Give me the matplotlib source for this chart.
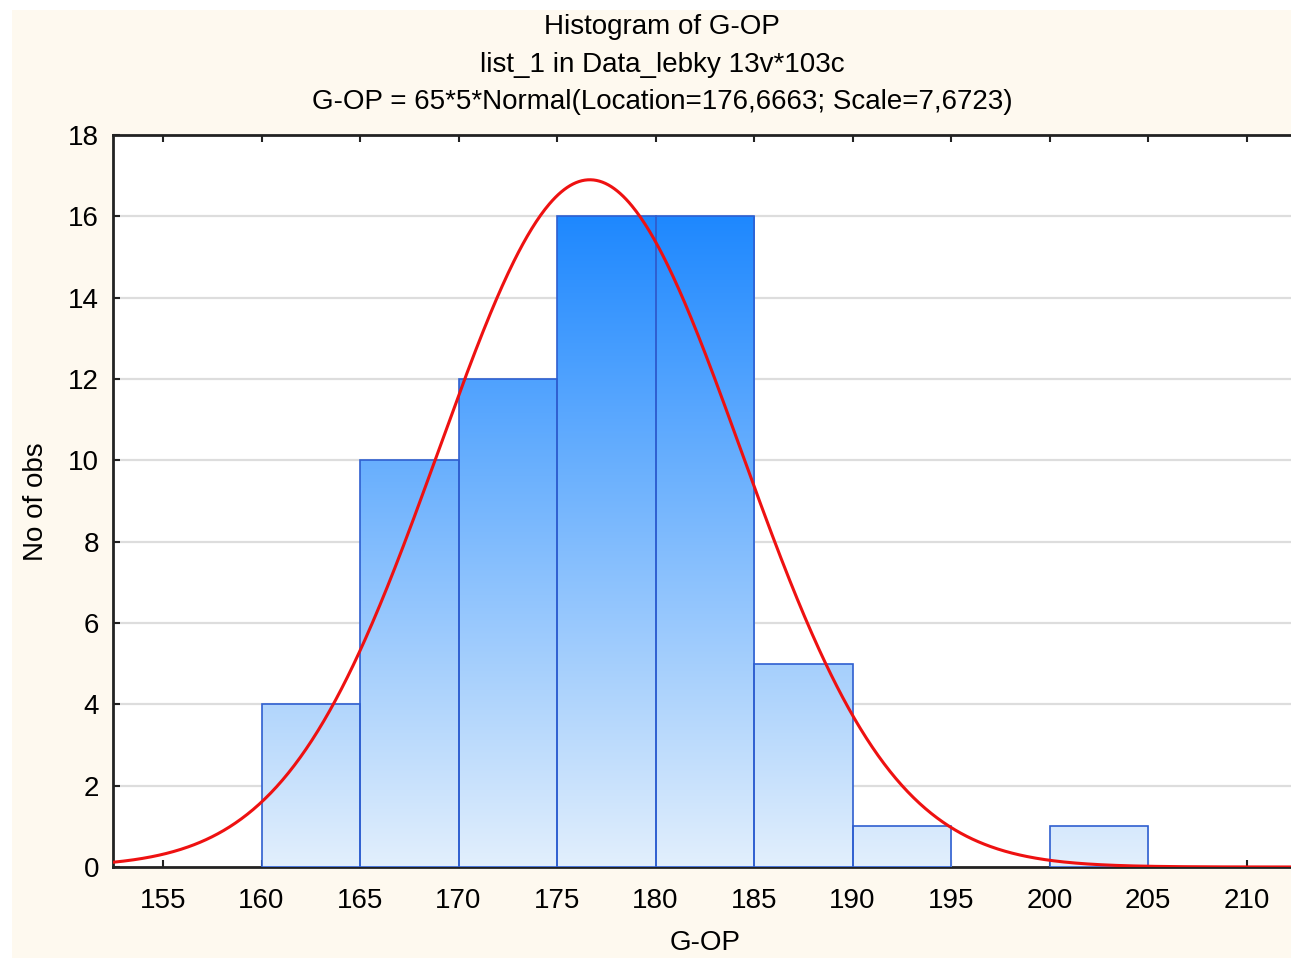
import numpy as np
import matplotlib
matplotlib.use("Agg")
import matplotlib.pyplot as plt
from matplotlib.patches import Rectangle
from matplotlib.colors import LinearSegmentedColormap

# ---- data ----
bin_edges = [160, 165, 170, 175, 180, 185, 190, 195, 200, 205]
counts = [4, 10, 12, 16, 16, 5, 1, 0, 1]
n_obs = 65
bin_width = 5
loc = 176.6663
scale = 7.6723
x_ticks = [155, 160, 165, 170, 175, 180, 185, 190, 195, 200, 205, 210]
y_ticks = [0, 2, 4, 6, 8, 10, 12, 14, 16, 18]
title_lines = ["Histogram of G-OP",
               "list_1 in Data_lebky 13v*103c",
               "G-OP = 65*5*Normal(Location=176,6663; Scale=7,6723)"]

plt.rcParams['font.family'] = ['Liberation Sans', 'DejaVu Sans']

W, H = 1291, 958
fig = plt.figure(figsize=(W / 100, H / 100), dpi=100)
fig.patch.set_facecolor('white')
cream = '#FEF9EF'
bg = fig.add_axes([12 / W, 0, 1 - 12 / W, 1 - 10 / H], zorder=-5)
bg.set_facecolor(cream)
bg.set_xticks([]); bg.set_yticks([])
for s in bg.spines.values():
    s.set_visible(False)

ax_l, ax_r, ax_t, ax_b = 113, 1291, 135, 867
ax = fig.add_axes([ax_l / W, 1 - ax_b / H, (ax_r - ax_l) / W, (ax_b - ax_t) / H], zorder=1)
ax.set_facecolor('white')
xmin = 155 - (163 - 113) / 98.5 * 5
xmax = 155 + (1291 - 163) / 98.5 * 5

for y in y_ticks[1:-1]:
    ax.axhline(y, color='#DDDDDD', lw=1.6, zorder=1)

cmap = LinearSegmentedColormap.from_list('g', ['#E2EFFC', '#1E88FF'])
grad = np.linspace(0, 1, 256).reshape(-1, 1)
for i, c in enumerate(counts):
    if c <= 0:
        continue
    x0, x1 = bin_edges[i], bin_edges[i + 1]
    rect = Rectangle((x0, 0), x1 - x0, c, facecolor='none', edgecolor='#2F5FD0', lw=1.2, zorder=4)
    ax.add_patch(rect)
    im = ax.imshow(grad, extent=(x0, x1, 0, 16), origin='lower', cmap=cmap, aspect='auto',
                   zorder=3, interpolation='bilinear')
    im.set_clip_path(rect)

xs = np.linspace(xmin, xmax, 800)
ys = n_obs * bin_width * np.exp(-0.5 * ((xs - loc) / scale) ** 2) / (scale * np.sqrt(2 * np.pi))
ax.plot(xs, ys, color='#EE1111', lw=2.2, zorder=5)

ax.set_xticks(x_ticks)
ax.set_yticks(y_ticks)
ax.tick_params(direction='in', length=5, width=1.5, labelsize=20, pad=15, top=True, right=False, color='#222222')
ax.tick_params(axis='y', pad=10)
for s in ['left', 'bottom', 'top']:
    ax.spines[s].set_linewidth(2.0)
    ax.spines[s].set_color('#222222')
ax.spines['right'].set_visible(False)
ax.set_xlim(xmin, xmax)
ax.set_ylim(0, 18)

fig.text(705 / W, 1 - 943 / H, 'G-OP', ha='center', va='center', fontsize=20)
fig.text(36 / W, 1 - 502 / H, 'No of obs', ha='center', va='center', rotation=90, fontsize=20)
for i, t in enumerate(title_lines):
    fig.text(662 / W, 1 - (27 + 37.5 * i) / H, t, ha='center', va='center', fontsize=20)

fig.savefig('out.png', dpi=100, facecolor=fig.get_facecolor())
